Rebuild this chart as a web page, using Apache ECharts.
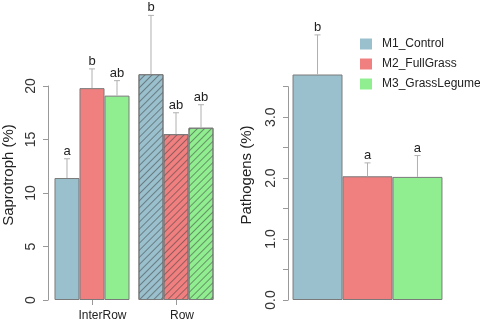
<!DOCTYPE html>
<html>
<head>
<meta charset="utf-8">
<script src="https://cdn.jsdelivr.net/npm/echarts@6/dist/echarts.min.js"></script>
<style>html,body{margin:0;padding:0;background:#fff}#c{width:480px;height:324px}</style>
</head>
<body>
<div id="c"></div>
<script>
// ---- data ----
const seriesNames = ['M1_Control', 'M2_FullGrass', 'M3_GrassLegume'];
const seriesColors = ['#9AC0CD', '#F08080', '#90EE90'];
const sapCategories = ['InterRow', 'Row'];
const sapControl = [11.4, 21.1];
const sapFullGrass = [19.8, 15.5];
const sapGrassLegume = [19.1, 16.1];
const sapControlErr = [1.8, 5.5];
const sapFullGrassErr = [1.8, 2.0];
const sapGrassLegumeErr = [1.4, 2.15];
const sapControlLetters = ['a', 'b'];
const sapFullGrassLetters = ['b', 'ab'];
const sapGrassLegumeLetters = ['ab', 'ab'];
const hatched = [false, true];

const pathCategories = ['Pathogens'];
const pathControl = [3.70];
const pathFullGrass = [2.03];
const pathGrassLegume = [2.02];
const pathControlErr = [0.65];
const pathFullGrassErr = [0.22];
const pathGrassLegumeErr = [0.35];
const pathControlLetters = ['b'];
const pathFullGrassLetters = ['a'];
const pathGrassLegumeLetters = ['a'];

const sapTicks = [0, 5, 10, 15, 20];
const pathTicks = [0.0, 1.0, 2.0, 3.0];

// ---- layout helpers ----
const FONT = 'Liberation Sans, Arial, Helvetica, sans-serif';
const sapMeans = [sapControl, sapFullGrass, sapGrassLegume];
const sapErrs = [sapControlErr, sapFullGrassErr, sapGrassLegumeErr];
const sapLetters = [sapControlLetters, sapFullGrassLetters, sapGrassLegumeLetters];
const pathMeans = [pathControl, pathFullGrass, pathGrassLegume];
const pathErrs = [pathControlErr, pathFullGrassErr, pathGrassLegumeErr];
const pathLetters = [pathControlLetters, pathFullGrassLetters, pathGrassLegumeLetters];

const sapGapFrac = 0.107;
const pathGapFrac = 0.057;

const hatch = {
  symbol: 'rect', symbolSize: 1,
  dashArrayX: [1, 0], dashArrayY: [1, 3.2],
  rotation: -Math.PI / 4,
  color: 'rgba(55,55,55,0.5)'
};

function errSeries(gridIdx, sIdx, means, errs, letters, gapFrac) {
  return {
    type: 'custom',
    name: seriesNames[sIdx],
    xAxisIndex: gridIdx, yAxisIndex: gridIdx,
    clip: false, z: 5, silent: true,
    data: means[sIdx].map((m, i) => [i, m, m + errs[sIdx][i], letters[sIdx][i]]),
    renderItem: function (params, api) {
      const band = api.size([1, 0])[0];
      const barW = band * (1 - gapFrac) / 3;
      const base = api.coord([api.value(0), api.value(1)]);
      const top = api.coord([api.value(0), api.value(2)]);
      const x = base[0] + (sIdx - 1) * barW;
      const cw = 3;
      return {
        type: 'group',
        children: [
          { type: 'line', shape: { x1: x, y1: base[1], x2: x, y2: top[1] }, style: { stroke: '#b0b0b0', lineWidth: 1 } },
          { type: 'line', shape: { x1: x - cw, y1: top[1], x2: x + cw, y2: top[1] }, style: { stroke: '#b0b0b0', lineWidth: 1 } },
          { type: 'text', x: x, y: top[1] - 1, style: { text: api.value(3), font: '13px ' + FONT, fill: '#222', textAlign: 'center', textVerticalAlign: 'bottom' } }
        ]
      };
    }
  };
}

const series = [];
for (let s = 0; s < 3; s++) {
  series.push({
    type: 'bar', name: seriesNames[s], xAxisIndex: 0, yAxisIndex: 0,
    barGap: 0, barCategoryGap: (sapGapFrac * 100) + '%', clip: false,
    itemStyle: { color: seriesColors[s], borderColor: '#7a7a7a', borderWidth: 1 },
    data: sapMeans[s].map((v, i) => hatched[i] ? { value: v, itemStyle: { decal: hatch } } : v)
  });
}
for (let s = 0; s < 3; s++) {
  series.push({
    type: 'bar', name: seriesNames[s], xAxisIndex: 1, yAxisIndex: 1,
    barGap: 0, barCategoryGap: (pathGapFrac * 100) + '%', clip: false,
    itemStyle: { color: seriesColors[s], borderColor: '#7a7a7a', borderWidth: 1 },
    data: pathMeans[s]
  });
}
for (let s = 0; s < 3; s++) series.push(errSeries(0, s, sapMeans, sapErrs, sapLetters, sapGapFrac));
for (let s = 0; s < 3; s++) series.push(errSeries(1, s, pathMeans, pathErrs, pathLetters, pathGapFrac));

const yAxisCommon = {
  type: 'value', min: 0,
  splitLine: { show: false },
  axisLine: { show: true, lineStyle: { color: '#999' } },
  axisTick: { show: true, length: 5, lineStyle: { color: '#999' } },
  axisLabel: { rotate: 90, margin: 10, color: '#333', fontSize: 14, fontFamily: FONT }
};

const option = {
  animation: false,
  backgroundColor: '#fff',
  legend: {
    data: seriesNames, orient: 'vertical', left: 355, top: 33,
    itemWidth: 12, itemHeight: 11, itemGap: 8, icon: 'rect',
    itemStyle: { borderWidth: 0 },
    textStyle: { fontSize: 12, fontFamily: FONT, color: '#222', padding: [0, 0, 0, 5] },
    selectedMode: false
  },
  grid: [
    { left: 50, width: 168, top: 86, height: 214 },
    { left: 288, width: 159, top: 86.7, height: 213.3 }
  ],
  xAxis: [
    { type: 'category', gridIndex: 0, data: sapCategories, offset: 2,
      axisLine: { show: false },
      axisTick: { show: true, alignWithLabel: true, interval: 0, length: 5, lineStyle: { color: '#999' } },
      axisLabel: { interval: 0, hideOverlap: false, margin: 8, color: '#222', fontSize: 12, fontFamily: FONT,
        formatter: v => v === 'InterRow' ? '{a|' + v + '}' : '{b|' + v + '}',
        rich: {
          a: { fontSize: 12, fontFamily: FONT, color: '#222', padding: [0, 0, 0, 21] },
          b: { fontSize: 12, fontFamily: FONT, color: '#222', padding: [0, 0, 0, 12] }
        } } },
    { type: 'category', gridIndex: 1, data: pathCategories,
      axisLine: { show: false }, axisTick: { show: false }, axisLabel: { show: false } }
  ],
  yAxis: [
    Object.assign({}, yAxisCommon, { gridIndex: 0, max: 20, interval: 5, offset: 2,
      axisLabel: Object.assign({}, yAxisCommon.axisLabel, {
        formatter: v => sapTicks.indexOf(v) >= 0 ? String(v) : '' }) }),
    Object.assign({}, yAxisCommon, { gridIndex: 1, max: 3.5, interval: 0.5,
      axisLabel: Object.assign({}, yAxisCommon.axisLabel, {
        formatter: v => pathTicks.indexOf(v) >= 0 ? v.toFixed(1) : '' }) })
  ],
  graphic: [
    { type: 'text', x: 9, y: 175, rotation: Math.PI / 2,
      style: { text: 'Saprotroph (%)', font: '15px ' + FONT, fill: '#222', textAlign: 'center', textVerticalAlign: 'middle' } },
    { type: 'text', x: 247, y: 175, rotation: Math.PI / 2,
      style: { text: 'Pathogens (%)', font: '15px ' + FONT, fill: '#222', textAlign: 'center', textVerticalAlign: 'middle' } }
  ],
  series: series
};

const chart = echarts.init(document.getElementById('c'), null, { renderer: 'canvas' });
chart.setOption(option);
</script>
</body>
</html>
